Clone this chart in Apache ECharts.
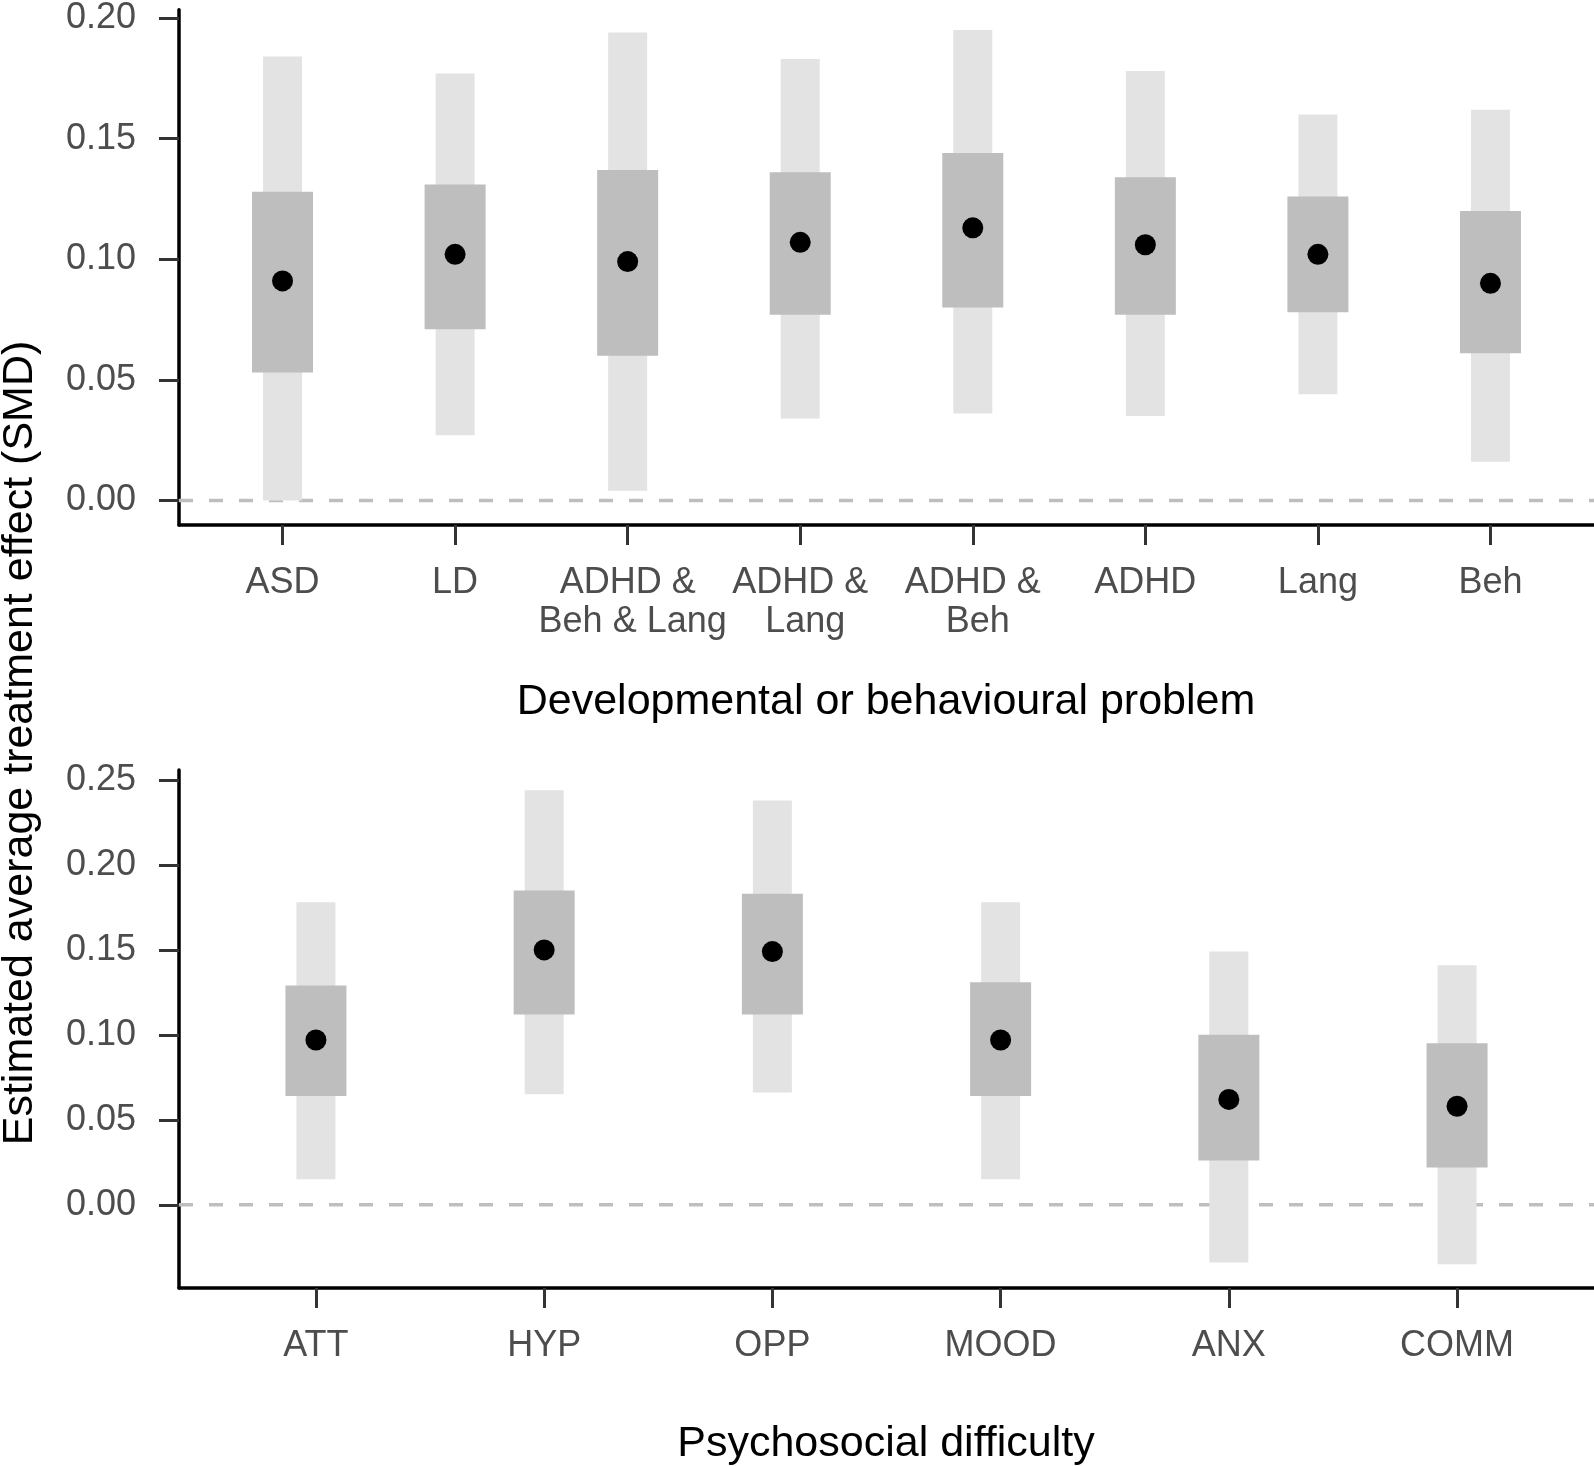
<!DOCTYPE html>
<html>
<head>
<meta charset="utf-8">
<script src="https://cdn.jsdelivr.net/npm/echarts@6/dist/echarts.min.js"></script>
<style>
html,body{margin:0;padding:0;background:#fff;}
#chart{width:1594px;height:1466px;}
</style>
</head>
<body>
<div id="chart"></div>
<script>
// ---- Data: top panel (developmental or behavioural problem) ----
const devCats = ['ASD', 'LD', 'ADHD &\n Beh & Lang', 'ADHD &\n Lang', 'ADHD &\n Beh', 'ADHD', 'Lang', 'Beh'];
const devEst  = [0.091, 0.102, 0.099, 0.107, 0.113, 0.106, 0.102, 0.090];
const devLo95 = [0.000, 0.027, 0.004, 0.034, 0.036, 0.035, 0.044, 0.016];
const devHi95 = [0.184, 0.177, 0.194, 0.183, 0.195, 0.178, 0.160, 0.162];
const devLo50 = [0.053, 0.071, 0.060, 0.077, 0.080, 0.077, 0.078, 0.061];
const devHi50 = [0.128, 0.131, 0.137, 0.136, 0.144, 0.134, 0.126, 0.120];
const devTicks = [0, 0.05, 0.10, 0.15, 0.20];

// ---- Data: bottom panel (psychosocial difficulty) ----
const psyCats = ['ATT', 'HYP', 'OPP', 'MOOD', 'ANX', 'COMM'];
const psyEst  = [0.097, 0.150, 0.149, 0.097, 0.062, 0.058];
const psyLo95 = [0.015, 0.065, 0.066, 0.015, -0.034, -0.035];
const psyHi95 = [0.178, 0.244, 0.238, 0.178, 0.149, 0.141];
const psyLo50 = [0.064, 0.112, 0.112, 0.064, 0.026, 0.022];
const psyHi50 = [0.129, 0.185, 0.183, 0.131, 0.100, 0.095];
const psyTicks = [0, 0.05, 0.10, 0.15, 0.20, 0.25];

const FONT = '"Liberation Sans", Arial, Helvetica, sans-serif';
const LIGHT = '#e3e3e3', DARK = '#bebebe';

function rectSeries(gi, lo, hi, w, color, z) {
  return {
    type: 'custom', xAxisIndex: gi, yAxisIndex: gi, z: z, silent: true,
    data: lo.map((v, i) => [i, v, hi[i]]),
    encode: { x: 0, y: [1, 2] },
    renderItem: function (params, api) {
      const x = api.value(0);
      const pTop = api.coord([x, api.value(2)]);
      const pBot = api.coord([x, api.value(1)]);
      return { type: 'rect', shape: { x: pTop[0] - w / 2, y: pTop[1], width: w, height: pBot[1] - pTop[1] }, style: { fill: color } };
    }
  };
}

function xAxisFor(gi, cats) {
  const idx = cats.map((c, i) => i);
  return {
    type: 'value', gridIndex: gi, min: -0.6, max: cats.length - 0.4,
    splitLine: { show: false },
    axisLine: { show: true, onZero: false, lineStyle: { color: '#000', width: 3.5 } },
    axisTick: { show: true, length: 20, customValues: idx, lineStyle: { color: '#333', width: 3 } },
    axisLabel: {
      show: true, customValues: idx, margin: 39, color: '#4d4d4d', fontSize: 36, lineHeight: 39,
      fontFamily: FONT, align: 'center',
      formatter: function (v) { const k = Math.round(v); return cats[k] !== undefined ? cats[k] : ''; }
    }
  };
}

function yAxisFor(gi, min, max, ticks) {
  return {
    type: 'value', gridIndex: gi, min: min, max: max,
    splitLine: { show: false },
    axisLine: { show: true, onZero: false, lineStyle: { color: '#000', width: 3.5 } },
    axisTick: { show: true, length: 20, customValues: ticks, lineStyle: { color: '#333', width: 3 } },
    axisLabel: {
      show: true, customValues: ticks, margin: 43, color: '#4d4d4d', fontSize: 36, fontFamily: FONT,
      formatter: function (v) { return v.toFixed(2); }
    }
  };
}

function zeroLine(gi, n) {
  return {
    type: 'line', xAxisIndex: gi, yAxisIndex: gi, z: 1, silent: true, symbol: 'none',
    data: [[-0.6, 0], [n - 0.4, 0]],
    lineStyle: { color: DARK, width: 3.5, type: [14, 16] }
  };
}

function points(gi, est) {
  return {
    type: 'scatter', xAxisIndex: gi, yAxisIndex: gi, z: 5, silent: true,
    symbol: 'circle', symbolSize: 21,
    itemStyle: { color: '#000', opacity: 1 },
    data: est.map((v, i) => [i, v])
  };
}

const chart = echarts.init(document.getElementById('chart'), null, { renderer: 'canvas' });
chart.setOption({
  animation: false,
  backgroundColor: '#fff',
  grid: [
    { left: 179, top: 5, width: 1415, height: 520 },
    { left: 179, top: 770, width: 1415, height: 518 }
  ],
  xAxis: [xAxisFor(0, devCats), xAxisFor(1, psyCats)],
  yAxis: [yAxisFor(0, -0.0102, 0.2034, devTicks), yAxisFor(1, -0.049, 0.2559, psyTicks)],
  series: [
    zeroLine(0, devCats.length),
    rectSeries(0, devLo95, devHi95, 39, LIGHT, 2),
    rectSeries(0, devLo50, devHi50, 61, DARK, 3),
    points(0, devEst),
    zeroLine(1, psyCats.length),
    rectSeries(1, psyLo95, psyHi95, 39, LIGHT, 2),
    rectSeries(1, psyLo50, psyHi50, 61, DARK, 3),
    points(1, psyEst)
  ],
  graphic: [
    { type: 'text', x: 886, y: 702, style: { text: 'Developmental or behavioural problem', fontSize: 43, fontFamily: FONT, fill: '#000', align: 'center', verticalAlign: 'middle' } },
    { type: 'text', x: 886, y: 1444, style: { text: 'Psychosocial difficulty', fontSize: 43, fontFamily: FONT, fill: '#000', align: 'center', verticalAlign: 'middle' } },
    { type: 'text', x: 20, y: 743, rotation: Math.PI / 2, style: { text: 'Estimated average treatment effect (SMD)', fontSize: 43, fontFamily: FONT, fill: '#000', align: 'center', verticalAlign: 'middle' } }
  ]
});
</script>
</body>
</html>
